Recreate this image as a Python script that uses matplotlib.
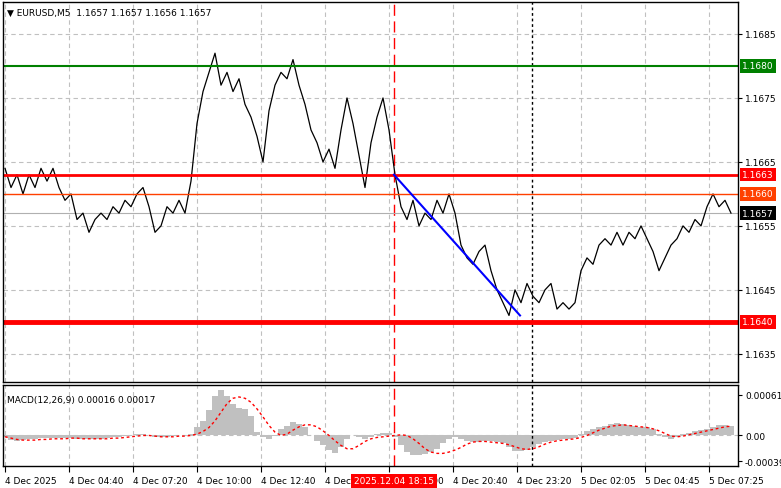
import numpy as np
import matplotlib
matplotlib.use('Agg')
import matplotlib.pyplot as plt

# closes sampled every 3 bars (M5)
close = [1.1664, 1.1661, 1.1663, 1.1660, 1.1663, 1.1661, 1.1664, 1.1662, 1.1664, 1.1661,
         1.1659, 1.1660, 1.1656, 1.1657, 1.1654, 1.1656, 1.1657, 1.1656, 1.1658, 1.1657,
         1.1659, 1.1658, 1.1660, 1.1661, 1.1658, 1.1654, 1.1655, 1.1658, 1.1657, 1.1659,
         1.1657, 1.1662, 1.1671, 1.1676, 1.1679, 1.1682, 1.1677, 1.1679, 1.1676, 1.1678,
         1.1674, 1.1672, 1.1669, 1.1665, 1.1673, 1.1677, 1.1679, 1.1678, 1.1681, 1.1677,
         1.1674, 1.1670, 1.1668, 1.1665, 1.1667, 1.1664, 1.1670, 1.1675, 1.1671, 1.1666,
         1.1661, 1.1668, 1.1672, 1.1675, 1.1670, 1.1663, 1.1658, 1.1656, 1.1659, 1.1655,
         1.1657, 1.1656, 1.1659, 1.1657, 1.1660, 1.1657, 1.1652, 1.1650, 1.1649, 1.1651,
         1.1652, 1.1648, 1.1645, 1.1643, 1.1641, 1.1645, 1.1643, 1.1646, 1.1644, 1.1643,
         1.1645, 1.1646, 1.1642, 1.1643, 1.1642, 1.1643, 1.1648, 1.1650, 1.1649, 1.1652,
         1.1653, 1.1652, 1.1654, 1.1652, 1.1654, 1.1653, 1.1655, 1.1653, 1.1651, 1.1648,
         1.1650, 1.1652, 1.1653, 1.1655, 1.1654, 1.1656, 1.1655, 1.1658, 1.1660, 1.1658,
         1.1659, 1.1657]

# MACD main / signal, units of 1e-5
macd = [-3, -7, -8, -7, -6, -5, -4, -4, -4, -4, -4, -4, -5, -6, -6, -5, -5, -4, -3, -2,
        -1, 0, 2, 2, 0, -2, -3, -2, -1, 0, 0, 2, 12, 22, 38, 60, 68, 60, 48, 42,
        40, 30, 5, -3, -5, -1, 10, 15, 20, 18, 12, 0, -8, -15, -22, -27, -18, -5, 0, -3,
        -5, -2, 2, 4, 4, -2, -15, -25, -30, -30, -28, -25, -20, -12, -6, -3, -5, -8, -10, -10,
        -9, -8, -10, -12, -18, -23, -24, -22, -18, -13, -10, -8, -7, -6, -5, -4, 2, 6, 10, 12,
        15, 18, 19, 18, 16, 14, 13, 12, 9, 2, -3, -5, -2, 2, 4, 6, 8, 10, 12, 16,
        16, 15]
signal = [-2, -4, -6, -7, -7, -7, -6, -6, -5, -5, -5, -4, -4, -5, -5, -5, -5, -5, -4, -4,
          -3, -2, -1, 0, 0, -1, -2, -2, -2, -1, -1, 0, 2, 6, 12, 22, 35, 48, 56, 58,
          56, 50, 40, 28, 15, 5, 0, 2, 8, 13, 16, 16, 13, 7, 0, -8, -15, -20, -20, -15,
          -9, -5, -3, -2, -1, 0, 1, 0, -5, -12, -20, -25, -27, -27, -25, -22, -18, -13, -10, -9,
          -9, -10, -11, -12, -14, -17, -20, -21, -20, -17, -13, -10, -8, -7, -6, -5, -3, 0, 4, 8,
          11, 14, 15, 16, 15, 14, 13, 12, 10, 7, 3, -1, -2, -1, 1, 3, 5, 7, 9, 11,
          13, 14]

tick_labels = ['4 Dec 2025', '4 Dec 04:40', '4 Dec 07:20', '4 Dec 10:00', '4 Dec 12:40',
               '4 Dec 15:20', '4 Dec 18:00', '4 Dec 20:40', '4 Dec 23:20', '5 Dec 02:05',
               '5 Dec 04:45', '5 Dec 07:25']
price_ticks = [1.1635, 1.1645, 1.1655, 1.1665, 1.1675, 1.1685]
levels = [(1.1680, '#008000', 1.5), (1.1663, '#ff0000', 2.0),
          (1.1660, '#ff4000', 1.0), (1.1640, '#ff0000', 3.5)]
trend = ([194.5, 257.5], [1.1663, 1.1641])

W, H = 781, 489
fig = plt.figure(figsize=(W / 100, H / 100), dpi=100)
plt.rcParams['font.family'] = 'DejaVu Sans'
FS = 6.5
ax = fig.add_axes([3 / W, 1 - 383 / H, 735 / W, 380 / H])
am = fig.add_axes([3 / W, 1 - 467 / H, 735 / W, 81 / H])

xmin, xmax = -1, 366.5
grid_kw = dict(color='#c0c0c0', ls=(0, (4, 3)), lw=0.8)
for a in (ax, am):
    a.set_xlim(xmin, xmax)
    for b in range(0, 360, 32):
        a.axvline(b, **grid_kw, zorder=0)
    a.axvline(194.5, color='red', ls=(0, (8, 4)), lw=1)
    a.axvline(263.5, color='black', ls=(0, (2, 2)), lw=1)
    a.yaxis.tick_right()
    a.tick_params(axis='y', length=3, labelsize=FS, pad=2)
    for s in a.spines.values():
        s.set_linewidth(1.0)

# price panel
ax.set_ylim(1.16306, 1.16900)
for p in price_ticks:
    ax.axhline(p, **grid_kw, zorder=0)
ax.set_yticks(price_ticks)
ax.set_yticklabels([f'{p:.4f}' for p in price_ticks])
ax.set_xticks([])
xs = np.arange(len(close)) * 3
ax.axhline(close[-1], color='#b0b0b0', lw=0.8)
ax.plot(xs, close, color='black', lw=0.9)
for lvl, col, lw in levels:
    ax.axhline(lvl, color=col, lw=lw)
    ax.text(1.006, lvl, f'{lvl:.4f}', transform=ax.get_yaxis_transform(), fontsize=FS,
            color='white', va='center', ha='left',
            bbox=dict(boxstyle='square,pad=0.25', fc=col, ec='none'))
ax.text(1.006, close[-1], f'{close[-1]:.4f}', transform=ax.get_yaxis_transform(), fontsize=FS,
        color='white', va='center', ha='left',
        bbox=dict(boxstyle='square,pad=0.25', fc='black', ec='none'))
ax.plot(*trend, color='#0000ff', lw=1.5)
ax.text(0.005, 0.985, '\u25bc EURUSD,M5  1.1657 1.1657 1.1656 1.1657', transform=ax.transAxes,
        fontsize=FS, va='top', ha='left')

# MACD panel
am.set_ylim(-0.00046, 0.00076)
am.axhline(0, **grid_kw, zorder=0)
mx = np.arange(len(macd)) * 3
am.bar(mx, np.array(macd) * 1e-5, width=3, color='#c0c0c0', lw=0)
am.plot(np.arange(len(signal)) * 3, np.array(signal) * 1e-5, color='red', ls=(0, (2, 2)), lw=1)
am.set_yticks([-0.00039, 0.0, 0.00061])
am.set_yticklabels(['-0.00039', '0.00', '0.00061'])
am.set_xticks(range(0, 360, 32))
am.set_xticklabels(tick_labels, fontsize=FS, ha='left')
am.tick_params(axis='x', length=4, pad=3)
am.text(0.006, 0.88, 'MACD(12,26,9) 0.00016 0.00017', transform=am.transAxes,
        fontsize=FS, va='top', ha='left')
am.text(194.5, -0.185, '2025.12.04 18:15', fontsize=FS, color='white',
        va='center', ha='center', transform=am.get_xaxis_transform(), clip_on=False,
        bbox=dict(boxstyle='square,pad=0.3', fc='#ff0000', ec='none'), zorder=10)

fig.savefig('out.png', dpi=100)
